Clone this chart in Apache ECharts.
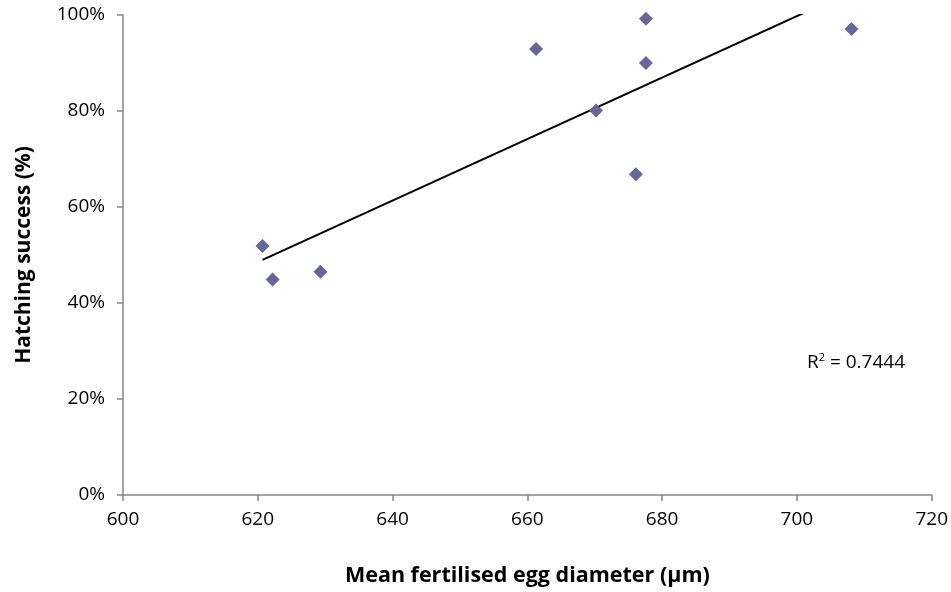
<!DOCTYPE html>
<html>
<head>
<meta charset="utf-8">
<script src="https://cdn.jsdelivr.net/npm/echarts@6/dist/echarts.min.js"></script>
<style>html,body{margin:0;padding:0;background:#fff}#c{width:951px;height:592px}</style>
</head>
<body>
<div id="c"></div>
<script>
// Data
const eggDiameter = [620.7, 622.2, 629.3, 661.3, 670.2, 676.1, 677.6, 677.6, 708.1];
const hatchingSuccess = [51.9, 44.9, 46.5, 92.9, 80.1, 66.8, 90.0, 99.2, 97.1];
const xTicks = [600, 620, 640, 660, 680, 700, 720];
const yTicks = [0, 20, 40, 60, 80, 100];
const rSquaredText = '0.7444';
const xTitle = 'Mean fertilised egg diameter (µm)';
const yTitle = 'Hatching success (%)';

// Linear least-squares trend line
const n = eggDiameter.length;
const mx = eggDiameter.reduce((a, b) => a + b, 0) / n;
const my = hatchingSuccess.reduce((a, b) => a + b, 0) / n;
let sxy = 0, sxx = 0;
for (let i = 0; i < n; i++) {
  sxy += (eggDiameter[i] - mx) * (hatchingSuccess[i] - my);
  sxx += (eggDiameter[i] - mx) ** 2;
}
const slope = sxy / sxx;
const intercept = my - slope * mx;
const xMin = Math.min(...eggDiameter), xMax = Math.max(...eggDiameter);
const trend = [[xMin, slope * xMin + intercept], [xMax, slope * xMax + intercept]];

const points = eggDiameter.map((x, i) => [x, hatchingSuccess[i]]);
const FONT = 'Open Sans';
const axisGray = '#868686';

const chart = echarts.init(document.getElementById('c'), null, {renderer: 'canvas'});
chart.setOption({
  animation: false,
  backgroundColor: '#ffffff',
  grid: {left: 123, right: 19, top: 15, bottom: 95, containLabel: false},
  xAxis: {
    type: 'value',
    min: xTicks[0], max: xTicks[xTicks.length - 1], interval: xTicks[1] - xTicks[0],
    name: xTitle, nameLocation: 'middle', nameGap: 70,
    nameTextStyle: {fontFamily: FONT, fontSize: 21.5, fontWeight: 'bold', color: '#000'},
    axisLine: {show: true, onZero: false, lineStyle: {color: axisGray, width: 1.5}},
    axisTick: {show: true, length: 6, lineStyle: {color: axisGray, width: 1.5}},
    axisLabel: {fontFamily: FONT, fontSize: 19, color: '#000', margin: 15},
    splitLine: {show: false}
  },
  yAxis: {
    type: 'value',
    min: yTicks[0], max: yTicks[yTicks.length - 1], interval: yTicks[1] - yTicks[0],
    name: yTitle, nameLocation: 'middle', nameGap: 88,
    nameTextStyle: {fontFamily: FONT, fontSize: 21, fontWeight: 'bold', color: '#000'},
    axisLine: {show: true, onZero: false, lineStyle: {color: axisGray, width: 1.5}},
    axisTick: {show: true, length: 6, lineStyle: {color: axisGray, width: 1.5}},
    axisLabel: {fontFamily: FONT, fontSize: 19, color: '#000', margin: 18, formatter: '{value}%'},
    splitLine: {show: false}
  },
  series: [
    {
      type: 'scatter',
      data: points,
      symbol: 'diamond',
      symbolSize: 14,
      itemStyle: {color: '#666699', opacity: 1},
      z: 3
    },
    {
      type: 'line',
      data: trend,
      showSymbol: false,
      symbol: 'none',
      clip: true,
      lineStyle: {color: '#000', width: 2},
      z: 2
    }
  ],
  graphic: [{
    type: 'text',
    left: 807,
    top: 352,
    style: {
      text: '{r|R}{sup|2}{r| = ' + rSquaredText + '}',
      rich: {
        r: {fontFamily: FONT, fontSize: 19, fill: '#000', verticalAlign: 'bottom'},
        sup: {fontFamily: FONT, fontSize: 11, fill: '#000', verticalAlign: 'top', padding: [0, 0, 9, 0]}
      }
    }
  }]
});
</script>
</body>
</html>
